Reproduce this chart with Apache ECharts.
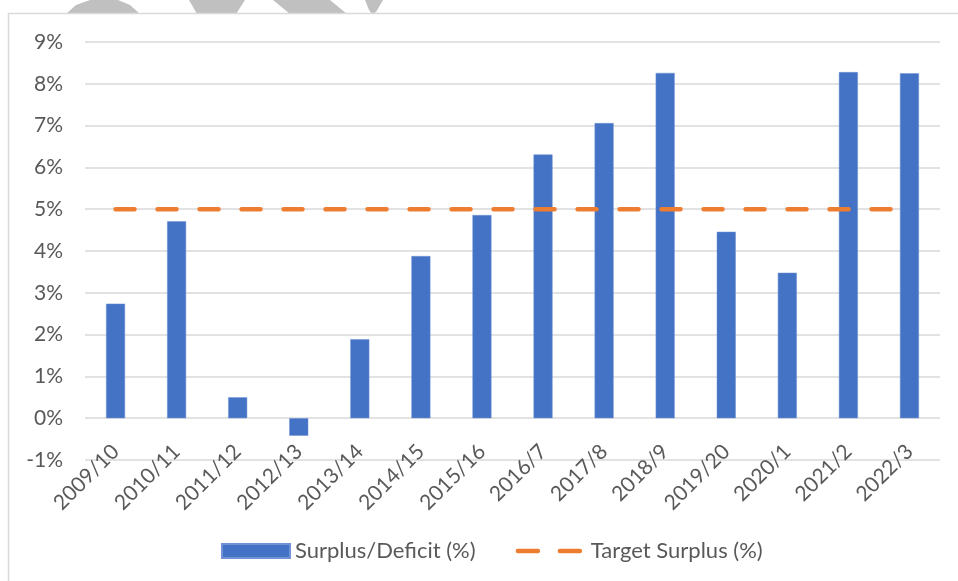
<!DOCTYPE html>
<html>
<head>
<meta charset="utf-8">
<script src="https://cdn.jsdelivr.net/npm/echarts@6/dist/echarts.min.js"></script>
<style>
  html, body { margin: 0; padding: 0; background: #fff; }
  #main { width: 958px; height: 581px; }
</style>
</head>
<body>
<div id="main"></div>
<script>
var years = ['2009/10', '2010/11', '2011/12', '2012/13', '2013/14', '2014/15', '2015/16',
  '2016/7', '2017/8', '2018/9', '2019/20', '2020/1', '2021/2', '2022/3'];
var surplus = [2.74, 4.71, 0.5, -0.42, 1.89, 3.88, 4.86, 6.31, 7.06, 8.26, 4.46, 3.48, 8.28, 8.25];
var target = [5, 5, 5, 5, 5, 5, 5, 5, 5, 5, 5, 5, 5, 5];

var font = 'Lato, "Open Sans", sans-serif';
var grey = '#595959';

var myChart = echarts.init(document.getElementById('main'));

var option = {
  backgroundColor: '#fff',
  textStyle: { fontFamily: font },
  graphic: [
    // grey shapes peeking in above the chart frame
    { type: 'polygon', z: -1, shape: { points: [[66, 14], [76, 5], [90, 0], [118, 0], [130, 5], [140, 14]] }, style: { fill: '#c0c0c0' } },
    { type: 'polygon', z: -1, shape: { points: [[189, 0], [245, 0], [236, 14], [197, 14]] }, style: { fill: '#c0c0c0' } },
    { type: 'polygon', z: -1, shape: { points: [[273, 0], [330, 0], [347, 14], [290, 14]] }, style: { fill: '#c0c0c0' } },
    { type: 'polygon', z: -1, shape: { points: [[365, 0], [383, 0], [376, 12], [372, 14], [369, 10]] }, style: { fill: '#c0c0c0' } },
    { type: 'rect', z: 0, shape: { x: 8.5, y: 13.5, width: 1000, height: 600 }, style: { fill: '#fff', stroke: '#d9d9d9', lineWidth: 1.5 } }
  ],
  grid: { left: 85, right: 18, top: 42, bottom: 121, containLabel: false },
  legend: {
    bottom: 14,
    left: 216,
    itemGap: 40,
    itemWidth: 68,
    itemHeight: 14,
    textStyle: { fontFamily: font, fontSize: 22, color: grey },
    data: [
      { name: 'Surplus/Deficit (%)', icon: 'rect' },
      {
        name: 'Target Surplus (%)',
        itemStyle: { opacity: 0 },
        lineStyle: { color: '#ed7d31', width: 4.5, type: [20, 22], cap: 'round' }
      }
    ]
  },
  xAxis: {
    type: 'category',
    data: years,
    axisLine: { show: false, onZero: false },
    axisTick: { show: false },
    axisLabel: { rotate: 45, margin: -12, fontSize: 21, color: grey, fontFamily: font, interval: 0 }
  },
  yAxis: {
    type: 'value',
    min: -1,
    max: 9,
    interval: 1,
    axisLine: { show: false },
    axisTick: { show: false },
    axisLabel: { formatter: '{value}%', fontSize: 21, color: grey, fontFamily: font, margin: 22 },
    splitLine: { lineStyle: { color: '#d9d9d9', width: 1.5 } }
  },
  series: [
    {
      name: 'Surplus/Deficit (%)',
      type: 'bar',
      data: surplus,
      barWidth: 19,
      itemStyle: { color: '#4472c4', borderColor: '#6f93d4', borderWidth: 0.5 },
      z: 2
    },
    {
      name: 'Target Surplus (%)',
      type: 'line',
      data: target,
      symbol: 'none',
      lineStyle: { color: '#ed7d31', width: 4.5, type: [19, 23], cap: 'round' },
      itemStyle: { color: '#ed7d31' },
      z: 3
    }
  ]
};

myChart.setOption(option);
</script>
</body>
</html>
